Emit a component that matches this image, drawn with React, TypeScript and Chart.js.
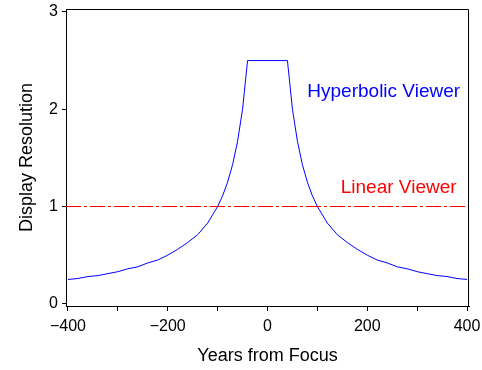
import React, { useEffect, useRef } from 'react';
import { Chart, registerables } from 'chart.js';

Chart.register(...registerables);

// Years from focus and the hyperbolic viewer's display resolution
const YEARS = [
  -400, -380, -360, -340, -320, -300, -280, -260, -240, -220, -200, -180, -160, -140, -120, -100, -90, -80, -70, -60, -50, -40,
  40, 50, 60, 70, 80, 90, 100, 120, 140, 160, 180, 200, 220, 240, 260, 280, 300, 320, 340, 360, 380, 400,
];
const HYPERBOLIC = [
  0.25, 0.26, 0.28, 0.29, 0.31, 0.33, 0.36, 0.38, 0.42, 0.45, 0.5, 0.56, 0.63, 0.71, 0.83, 1.0, 1.11, 1.25, 1.43, 1.67, 2.0, 2.5,
  2.5, 2.0, 1.67, 1.43, 1.25, 1.11, 1.0, 0.83, 0.71, 0.63, 0.56, 0.5, 0.45, 0.42, 0.38, 0.36, 0.33, 0.31, 0.29, 0.28, 0.26, 0.25,
];
// Linear viewer: constant resolution across the axis range
const LINEAR_YEARS = [-404, 404];
const LINEAR = [1, 1];

const X_MIN = -404;
const X_MAX = 404;
const Y_MIN = -0.0227;
const Y_MAX = 3.03;
const X_TICKS = [-400, -300, -200, -100, 0, 100, 200, 300, 400];
const X_LABELED = [-400, -200, 0, 200, 400];
const Y_TICKS = [0, 1, 2, 3];

const ANNOTATIONS = [
  { text: 'Hyperbolic Viewer', x: 233, y: 2.18, color: '#0000ff' },
  { text: 'Linear Viewer', x: 263, y: 1.19, color: '#ff0000' },
];

const FONT = "'Liberation Sans', Arial, sans-serif";

export default function App() {
  const ref = useRef<HTMLCanvasElement | null>(null);

  useEffect(() => {
    const canvas = ref.current;
    if (!canvas) return;

    const framePlugin = {
      id: 'frameAndText',
      afterDraw(chart: any) {
        const { ctx, chartArea, scales } = chart;
        ctx.save();
        ctx.strokeStyle = '#000';
        ctx.lineWidth = 1;
        ctx.beginPath();
        ctx.moveTo(chartArea.left, chartArea.top + 0.5);
        ctx.lineTo(chartArea.right - 0.5, chartArea.top + 0.5);
        ctx.lineTo(chartArea.right - 0.5, chartArea.bottom);
        ctx.stroke();
        ctx.font = `19px ${FONT}`;
        ctx.textAlign = 'center';
        ctx.textBaseline = 'middle';
        for (const a of ANNOTATIONS) {
          ctx.fillStyle = a.color;
          ctx.fillText(a.text, scales.x.getPixelForValue(a.x), scales.y.getPixelForValue(a.y));
        }
        ctx.restore();
      },
    };

    const chart = new Chart(canvas, {
      type: 'line',
      data: {
        datasets: [
          {
            label: 'Hyperbolic Viewer',
            data: YEARS.map((x, i) => ({ x, y: HYPERBOLIC[i] })),
            borderColor: '#0000ff',
            borderWidth: 1,
            pointRadius: 0,
            tension: 0,
            fill: false,
          },
          {
            label: 'Linear Viewer',
            data: LINEAR_YEARS.map((x, i) => ({ x, y: LINEAR[i] })),
            borderColor: '#ff0000',
            borderWidth: 1,
            borderDash: [15, 3, 3, 3],
            pointRadius: 0,
            fill: false,
          },
        ],
      },
      options: {
        responsive: false,
        animation: false,
        events: [],
        layout: { padding: { top: 9, right: 13, left: 0, bottom: 0 } },
        plugins: { legend: { display: false }, tooltip: { enabled: false } },
        scales: {
          x: {
            type: 'linear',
            min: X_MIN,
            max: X_MAX,
            afterBuildTicks(scale: any) {
              scale.ticks = X_TICKS.map((v) => ({ value: v }));
            },
            afterFit(scale: any) {
              scale.height = 64;
              scale.paddingLeft = 0;
              scale.paddingRight = 0;
            },
            grid: { drawOnChartArea: false, drawTicks: true, tickLength: 5, tickColor: '#000' },
            border: { display: true, color: '#000', width: 1 },
            ticks: {
              autoSkip: false,
              maxRotation: 0,
              padding: 6,
              color: '#000',
              font: { family: FONT, size: 16 },
              callback: (v: any) =>
                X_LABELED.includes(v) ? (v < 0 ? '\u2212' + Math.abs(v) : String(v)) : '',
            },
            title: {
              display: true,
              text: 'Years from Focus',
              color: '#000',
              font: { family: FONT, size: 18 },
              padding: { top: 0, bottom: 3 },
            },
          },
          y: {
            type: 'linear',
            min: Y_MIN,
            max: Y_MAX,
            afterBuildTicks(scale: any) {
              scale.ticks = Y_TICKS.map((v) => ({ value: v }));
            },
            afterFit(scale: any) {
              scale.width = 66;
              scale.paddingTop = 0;
              scale.paddingBottom = 0;
            },
            grid: { drawOnChartArea: false, drawTicks: true, tickLength: 4, tickColor: '#000' },
            border: { display: true, color: '#000', width: 1 },
            ticks: {
              padding: 4,
              color: '#000',
              font: { family: FONT, size: 16 },
              callback: (v: any) => String(v),
            },
            title: {
              display: true,
              text: 'Display Resolution',
              color: '#000',
              font: { family: FONT, size: 18 },
              padding: { top: 16, bottom: 0 },
            },
          },
        },
      },
      plugins: [framePlugin],
    });

    return () => chart.destroy();
  }, []);

  return (
    <div style={{ position: 'fixed', left: 0, top: 0, width: 482, height: 370, background: '#fff' }}>
      <canvas ref={ref} width={482} height={370} style={{ display: 'block' }} />
    </div>
  );
}
